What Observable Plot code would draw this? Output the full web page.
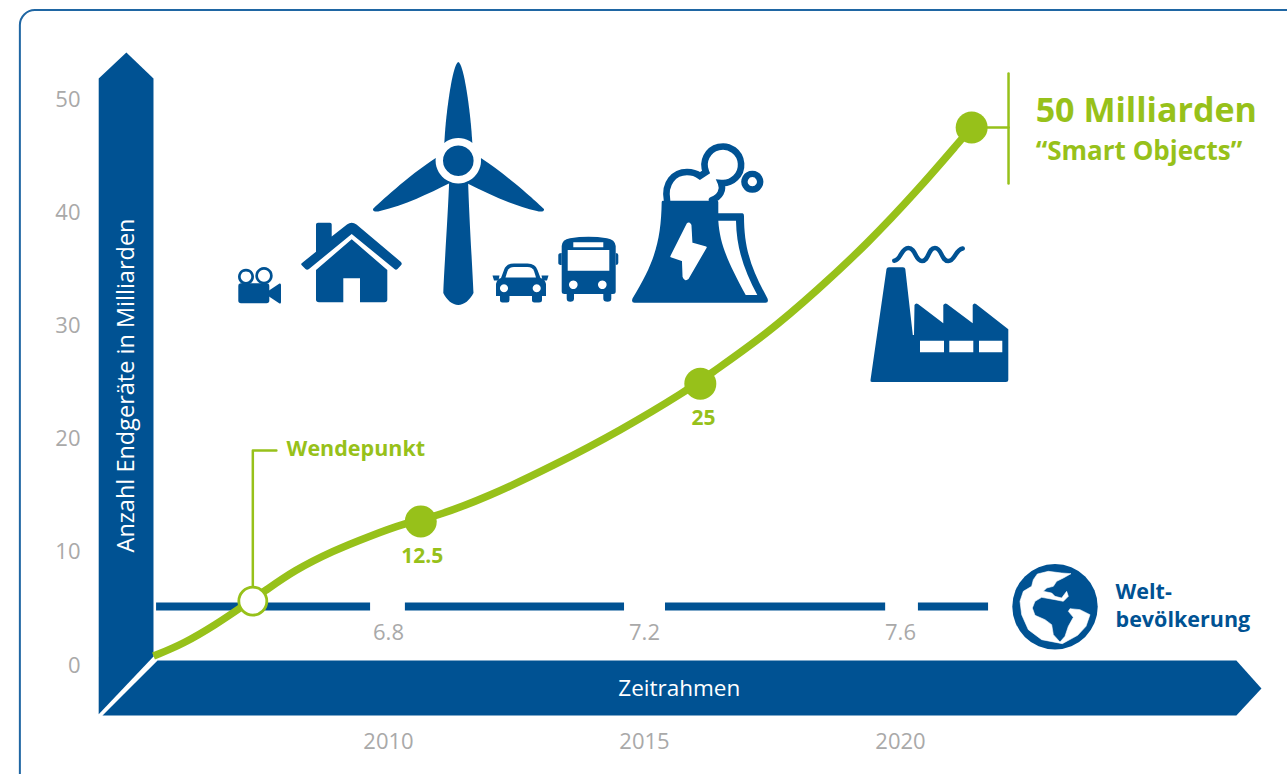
<!DOCTYPE html>
<html>
<head>
<meta charset="utf-8">
<script src="https://cdn.jsdelivr.net/npm/d3@7"></script>
<script src="https://cdn.jsdelivr.net/npm/@observablehq/plot@0.6"></script>
<style>
html,body{margin:0;padding:0;background:#fff;overflow:hidden}
svg{display:block}
</style>
</head>
<body>
<div id="chart"></div>
<script>
const BLUE = "#005293", GREEN = "#97c11a", GREY = "#a9a9a9";

// ---- data ----
const yTicks = [0, 10, 20, 30, 40, 50];
const xTicks = [2010, 2015, 2020];
const devices = [
  [2005.41, 0.75], [2006.0, 1.83], [2006.65, 3.6], [2007.08, 4.92], [2007.6, 6.54],
  [2008.15, 8.3], [2008.93, 10.07], [2009.58, 11.25], [2010.37, 12.57], [2010.88, 13.01],
  [2011.93, 14.78], [2013.23, 17.58], [2014.53, 20.67], [2015.83, 24.2], [2016.29, 25.7],
  [2017.4, 29.24], [2018.37, 33.04], [2019.35, 37.16], [2020.33, 41.87], [2021.17, 46.29],
  [2021.39, 47.44]
];
const milestones = [[2010.63, 12.63], [2016.09, 24.8], [2021.39, 47.44]];
const turningPoint = [[2007.35, 5.6]];
const milestoneLabels = [[2010.66, 9.54, "12.5"], [2016.15, 21.73, "25"]];
const popLevel = 5.12;
const popSegments = [[2005.47, 2009.65], [2010.33, 2014.61], [2015.41, 2019.71], [2020.35, 2021.72]];
const popYears = [2010, 2015, 2020];
const popLabels = ["6.8", "7.2", "7.6"];
const popLabelLevel = 2.83;
const yArrow = [[2004.34, -4.4], [2004.34, 51.77], [2004.88, 54.06], [2005.41, 51.77], [2005.41, 0.7]];
const xArrow = [[2005.49, 0.35], [2026.56, 0.35], [2027.05, -2.12], [2026.56, -4.5], [2004.41, -4.5]];
const originLine = [[2004.38, -4.5], [2005.47, 0.5]];
const wendeLeader = [[2007.35, 5.6], [2007.35, 18.9], [2007.81, 18.9]];
const bracketH = [[2021.39, 47.44], [2022.11, 47.44]];
const bracketV = [[2022.11, 52.2], [2022.11, 42.49]];
const frameBox = [{x1: 2002.81, x2: 2030, y1: 57.77, y2: -15}];

// ---- decorative pictograms, drawn in artboard units anchored at (2010, 0) ----
const turbine = [
  ["M444.3 143 C446 110 453 63 458.3 62 C463.6 63 470.5 110 472.3 143 Z", BLUE],
  ["M435.7 158 C408 176 378 204 373 209 C372.5 212 377 212 380 211 C405 205 428 194 450 183 Z", BLUE],
  ["M480.9 158 C508.6 176 538.6 204 544 209 C544.5 212 540 212 537 211 C511.6 205 488.6 194 466.6 183 Z", BLUE],
  ["M449.3 178 L468 178 C469 215 472.5 270 473.5 293 C470 300 464 305 458.3 305 C452.6 305 446.5 300 443.3 293 C444 270 448 215 449.3 178 Z", BLUE],
  ["M458.3 138 a22.7 22.7 0 1 0 0.01 0 Z", "#fff"],
  ["M458.3 145.4 a15.3 15.3 0 1 0 0.01 0 Z", BLUE]
];
const camera = [
  ["M246 268.7 a8 8 0 1 0 0.01 0 Z M246 271.4 a5.3 5.3 0 1 1 -0.01 0 Z", BLUE],
  ["M264 267 a8.7 8.7 0 1 0 0.01 0 Z M264 269.7 a6 6 0 1 1 -0.01 0 Z", BLUE],
  ["M241 283.3 H266.5 Q269.3 283.3 269.3 286 V300.5 Q269.3 303.3 266.5 303.3 H241 Q238.3 303.3 238.3 300.5 V286 Q238.3 283.3 241 283.3 Z", BLUE],
  ["M269 290.5 L279.5 283.5 Q281 283 281 285 V302 Q281 304 279.5 303.5 L269 296.5 Z", BLUE]
];
const house = [
  ["M301.7 263.3 L316 251.7 V224.5 Q316 222.7 318 222.7 H330 Q331.7 222.7 331.7 224.5 V236.5 L347 224.5 Q351.7 221 356.5 224.5 L401 262 Q402.5 264 401 265.2 L397.5 269 Q396 270.5 394.5 269 L351.7 234 L309 269 Q307 270.5 305.5 269 L302 265.5 Q300.5 264.3 301.7 263.3 Z", BLUE],
  ["M351.7 239.3 L387.3 270 V299.5 Q387.3 302.3 384.5 302.3 H360 V278.3 H343.3 V302.3 H319 Q316 302.3 316 299.5 V270 Z", BLUE]
];
const car = [
  ["M496 284 Q497 279 501 278 L504 270 Q506 263.5 514 263.5 H527.5 Q535.5 263.5 537.5 270 L540.5 278 Q545 279 546 284 V296 H542 V300 Q542 302.5 539 302.5 H534.5 Q532 302.5 532 300 V296 H509.5 V300 Q509.5 302.5 507 302.5 H502.5 Q500 302.5 500 300 V296 H496 Z", BLUE],
  ["M492.5 275.5 H499.5 L498.5 280.5 H494 Z M548.5 275.5 H541.5 L542.5 280.5 H547 Z", BLUE],
  ["M505.5 277.5 L507.5 271 Q509 267 514 267 H527.5 Q532.5 267 534 271 L536 277.5 Z", "#fff"],
  ["M504 284.3 a4 4 0 1 0 0.01 0 Z M536.7 284.3 a4 4 0 1 0 0.01 0 Z", "#fff"]
];
const bus = [
  ["M561.7 246 Q562 239.5 570 238.2 Q588.5 235.5 607 238.2 Q615 239.5 615.7 246 V291.5 Q615.7 294 613 294 H611.3 V298.5 Q611.3 301.7 607.5 301.7 Q603.3 301.7 603.3 298.5 V294 H574 V298.5 Q574 301.7 570.3 301.7 Q566.7 301.7 566.7 298.5 V294 H564.5 Q561.7 294 561.7 291.5 Z", BLUE],
  ["M558.3 255 Q558.3 253 561.7 253 V265 Q558.3 265 558.3 263 Z M618.3 255 Q618.3 253 615.7 253 V265 Q618.3 265 618.3 263 Z", BLUE],
  ["M567.7 250 H609.3 V270.7 H567.7 Z M573.3 242.3 H603.3 V247.3 H573.3 Z", "#fff"],
  ["M573.3 280.4 a4.3 4.3 0 1 0 0.01 0 Z M602.3 280.4 a4.3 4.3 0 1 0 0.01 0 Z", "#fff"]
];
const plant = [
  ["M661.7 202 Q661.7 200.7 663 200.7 H717 Q718.3 200.7 718.3 202 V213.3 H742.5 Q744 213.3 744 216 C744 250 752 270 767.5 298.5 Q769 302.7 765.5 302.7 H634.5 Q631 302.7 632.5 298.5 C655 262 661 240 661.7 202 Z", BLUE],
  ["M718.3 220.7 H736 C736.5 250 745 272 757.3 295 H745.7 C728 262 720 245 718.3 220.7 Z", "#fff"]
];
const bolt = "M687.3 224 L671 256.5 L682.7 260.5 L683.3 276.7 Q685 281 688 278.5 L706 247.3 L691.7 243.3 L690.7 225 Q689 222 687.3 224 Z";
const smoke = "M667 200 C664 183 674 172 687 172 C692 172 696 173 700 176 L706 172 A18.3 18.3 0 1 1 721 183 C724 190 720 197 712 200";
const smokePuff = "M752.3 173.9 a7.8 7.8 0 1 0 0.01 0 Z";
const factory = [
  ["M886.5 269 Q886.7 267.3 889 267.3 H903 Q905 267.3 905.3 269 L912.8 335 L914 335 L914.5 305 Q915.7 302.5 918 304 L943.3 323.3 V305 Q945 302.5 947 304 L972.7 323.3 V305 Q974 302.5 976 304 L1008.3 329.3 V380 Q1008.3 382 1006 382 H872 Q870 382 870.5 380 Z", BLUE],
  ["M920 340.7 H944 V352.3 H920 Z M949.3 340.7 H973.3 V352.3 H949.3 Z M979 340.7 H1002.3 V352.3 H979 Z", "#fff"]
];
const chimneySmoke = "M894.3 260.7 C901 260 901 248 908.3 248 C916 248 915 261 922 261 C929 261 928 248 935 248 C942 248 941 261 948.3 261 C955 261 955 250 962.7 248.5";
const oceanOutline = [
  [97,48],[130,40],[170,45],[198,47],[175,60],[155,70],[145,85],[125,90],[115,100],[140,105],
  [150,115],[170,120],[185,100],[190,115],[175,130],[150,125],[110,118],[90,130],[82,150],[90,172],
  [120,185],[140,200],[145,230],[165,252],[180,235],[190,205],[205,178],[190,160],[195,152],[225,155],[255,170],
  [243,205],[218,232],[172,257],[110,245],[70,215],[50,170],[45,130],[55,100],[80,85],[85,65]
];

function pictograms(index, {x, y}) {
  const g = d3.create("svg:g")
    .attr("transform", `translate(${x(2010) - 388},${y(0) - 664})`);
  const add = (parts) => parts.forEach(([d, fill]) => g.append("path").attr("d", d).attr("fill", fill));
  [turbine, camera, house, car, bus, plant, factory].forEach(add);
  g.append("path").attr("d", bolt).attr("fill", "#fff").attr("stroke", "#fff").attr("stroke-width", 1.5).attr("stroke-linejoin", "round");
  for (const [d, w] of [[smoke, 6.6], [smokePuff, 6.4], [chimneySmoke, 4.5]]) {
    g.append("path").attr("d", d).attr("fill", "none").attr("stroke", BLUE)
      .attr("stroke-width", w).attr("stroke-linecap", "round");
  }
  // globe
  g.append("circle").attr("cx", 1055).attr("cy", 606.7).attr("r", 42.7).attr("fill", BLUE);
  const ocean = d3.line().curve(d3.curveLinearClosed)
    .x(p => 1005 + p[0] / 3).y(p => 558 + p[1] / 3);
  g.append("path").attr("d", ocean(oceanOutline)).attr("fill", "#fff").attr("stroke", "#fff").attr("stroke-width", 0.6).attr("stroke-linejoin", "round");
  return g.node();
}

const pick = (i) => (d) => d[i];
const textStyle = {fontFamily: "Open Sans", lineAnchor: "middle"};

const chart = Plot.plot({
  width: 1287,
  height: 774,
  marginTop: 0,
  marginRight: 0,
  marginLeft: 84,
  marginBottom: 48,
  x: {type: "linear", domain: [2004.0625, 2027.5586]},
  y: {type: "linear", domain: [-5.477, 58.657]},
  style: {fontFamily: "Open Sans", background: "#fff", color: GREY},
  marks: [
    Plot.rect(frameBox, {x1: "x1", x2: "x2", y1: "y1", y2: "y2", rx: 15, fill: "none", stroke: "#1f66a3", strokeWidth: 2}),
    Plot.line(yArrow, {x: pick(0), y: pick(1), fill: BLUE, stroke: "none"}),
    Plot.line(xArrow, {x: pick(0), y: pick(1), fill: BLUE, stroke: "none"}),
    Plot.line(originLine, {x: pick(0), y: pick(1), stroke: "#fff", strokeWidth: 2.5}),
    Plot.ruleY(popSegments, {y: () => popLevel, x1: pick(0), x2: pick(1), stroke: BLUE, strokeWidth: 8}),
    Plot.axisY({ticks: yTicks, tickSize: 0, tickPadding: 4, fontSize: 22, color: GREY, label: null, dy: 1}),
    Plot.axisX({ticks: xTicks, tickSize: 0, tickPadding: 7, fontSize: 22, color: GREY, label: null, tickFormat: d => String(d)}),
    Plot.text(popLabels, {x: (d, i) => popYears[i], y: () => popLabelLevel, text: d => d, fill: GREY, fontSize: 22, ...textStyle}),
    pictograms,
    Plot.line(wendeLeader, {x: pick(0), y: pick(1), stroke: GREEN, strokeWidth: 2.5}),
    Plot.line(bracketH, {x: pick(0), y: pick(1), stroke: GREEN, strokeWidth: 2.5}),
    Plot.line(bracketV, {x: pick(0), y: pick(1), stroke: GREEN, strokeWidth: 2.5}),
    Plot.line(devices, {x: pick(0), y: pick(1), curve: "basis", stroke: GREEN, strokeWidth: 7.5, strokeLinecap: "butt"}),
    Plot.dot(milestones, {x: pick(0), y: pick(1), r: 16, fill: GREEN}),
    Plot.dot(turningPoint, {x: pick(0), y: pick(1), r: 14, fill: "#fff", stroke: GREEN, strokeWidth: 2.8}),
    Plot.text(milestoneLabels, {x: pick(0), y: pick(1), text: pick(2), fill: GREEN, fontSize: 21, fontWeight: 700, ...textStyle}),
    Plot.text(["Anzahl Endgeräte in Milliarden"], {x: () => 2004.88, y: () => 24.65, text: d => d, rotate: -90, fill: "#fff", fontSize: 23.5, ...textStyle}),
    Plot.text(["Zeitrahmen"], {x: () => 2015.68, y: () => -2.12, text: d => d, fill: "#fff", fontSize: 22.5, ...textStyle}),
    Plot.text(["Wendepunkt"], {x: () => 2008.01, y: () => 19.0, text: d => d, textAnchor: "start", fill: GREEN, fontSize: 21.5, fontWeight: 700, ...textStyle}),
    Plot.text(["50 Milliarden"], {x: () => 2022.64, y: () => 48.85, text: d => d, textAnchor: "start", fill: GREEN, fontSize: 34, fontWeight: 700, ...textStyle}),
    Plot.text(["“Smart Objects”"], {x: () => 2022.64, y: () => 45.32, text: d => d, textAnchor: "start", fill: GREEN, fontSize: 26, fontWeight: 700, ...textStyle}),
    Plot.text(["Welt-"], {x: () => 2024.2, y: () => 6.36, text: d => d, textAnchor: "start", fill: BLUE, fontSize: 21.5, fontWeight: 700, ...textStyle}),
    Plot.text(["bevölkerung"], {x: () => 2024.2, y: () => 3.89, text: d => d, textAnchor: "start", fill: BLUE, fontSize: 21.5, fontWeight: 700, ...textStyle})
  ]
});
document.getElementById("chart").appendChild(chart);
</script>
</body>
</html>
